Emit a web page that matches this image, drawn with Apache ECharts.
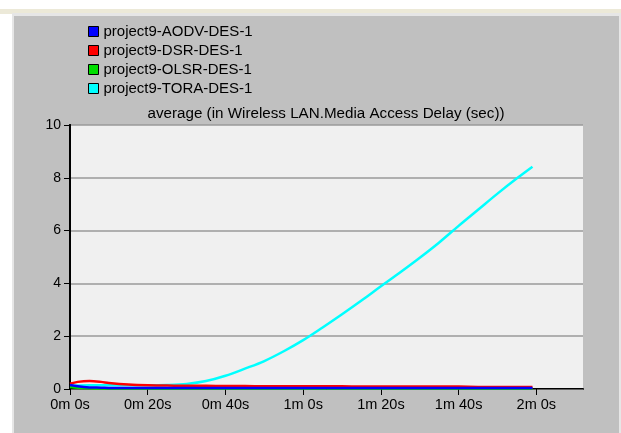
<!DOCTYPE html>
<html>
<head>
<meta charset="utf-8">
<style>
  html, body { margin: 0; padding: 0; background: #ffffff; }
  #chart { width: 621px; height: 433px; }
</style>
<script src="https://cdn.jsdelivr.net/npm/echarts@6/dist/echarts.min.js"></script>
</head>
<body>
<div id="chart"></div>
<script>
// Sample times (seconds of simulation)
const timeSec = [0, 2, 5, 8, 10, 15, 20, 25, 30, 35, 40, 45, 50, 55, 60, 65, 70, 75, 80, 85, 90, 95, 100, 105, 110, 115, 119];

// Average media access delay (sec) per routing protocol
const aodvDelay = [0.15, 0.10, 0.06, 0.05, 0.04, 0.04, 0.04, 0.04, 0.04, 0.04, 0.04, 0.04, 0.04, 0.04, 0.04, 0.04, 0.04, 0.04, 0.04, 0.04, 0.04, 0.04, 0.04, 0.04, 0.04, 0.04, 0.04];
const dsrDelay  = [0.20, 0.27, 0.30, 0.27, 0.23, 0.17, 0.14, 0.13, 0.12, 0.12, 0.11, 0.11, 0.10, 0.10, 0.10, 0.10, 0.10, 0.09, 0.09, 0.09, 0.09, 0.09, 0.09, 0.08, 0.08, 0.08, 0.08];
const olsrDelay = [0.08, 0.05, 0.03, 0.02, 0.02, 0.02, 0.02, 0.02, 0.02, 0.02, 0.02, 0.02, 0.02, 0.02, 0.02, 0.02, 0.02, 0.02, 0.02, 0.02, 0.02, 0.02, 0.02, 0.02, 0.02, 0.02, 0.02];
const toraDelay = [0.12, 0.13, 0.14, 0.14, 0.14, 0.14, 0.14, 0.15, 0.19, 0.30, 0.50, 0.77, 1.06, 1.43, 1.85, 2.33, 2.83, 3.35, 3.89, 4.42, 4.97, 5.55, 6.18, 6.79, 7.40, 7.98, 8.42];

const seriesNames = ['project9-AODV-DES-1', 'project9-DSR-DES-1', 'project9-OLSR-DES-1', 'project9-TORA-DES-1'];
const seriesColors = ['#0000ff', '#ff0000', '#00dd00', '#00ffff'];

// X tick positions (seconds) and their labels
const xTickValues = [0, 20, 40, 60, 80, 100, 120];
const xTickLabels = ['0m 0s', '0m 20s', '0m 40s', '1m 0s', '1m 20s', '1m 40s', '2m 0s'];
const yTickValues = [0, 2, 4, 6, 8, 10];

const chartTitle = 'average (in Wireless LAN.Media Access Delay (sec))';

function pairs(values) {
  return timeSec.map((t, i) => [t, values[i]]);
}

const valuesByName = {
  'project9-AODV-DES-1': aodvDelay,
  'project9-DSR-DES-1': dsrDelay,
  'project9-OLSR-DES-1': olsrDelay,
  'project9-TORA-DES-1': toraDelay
};

// draw TORA first so the low curves stay on top near the baseline
const drawOrder = [3, 2, 1, 0];

const font = 'Liberation Sans, Arial, sans-serif';
const chart = echarts.init(document.getElementById('chart'), null, { renderer: 'canvas' });

chart.setOption({
  animation: false,
  backgroundColor: '#ffffff',
  textStyle: { fontFamily: font },
  graphic: [
    { type: 'rect', silent: true, z: -10, shape: { x: 0, y: 9, width: 621, height: 5 }, style: { fill: '#ece9d8' } },
    { type: 'rect', silent: true, z: -10, shape: { x: 12, y: 13, width: 609, height: 420 }, style: { fill: '#e6e6e6' } },
    { type: 'rect', silent: true, z: -9, shape: { x: 14, y: 16, width: 605, height: 417 }, style: { fill: '#c0c0c0' } },
    {
      type: 'text', silent: true, x: 326, y: 114,
      style: { text: chartTitle, fill: '#000', font: '15.2px ' + font, textAlign: 'center', textVerticalAlign: 'middle' }
    }
  ],
  legend: {
    orient: 'vertical',
    left: 83,
    top: 19,
    itemWidth: 10,
    itemHeight: 10,
    itemGap: 4,
    icon: 'rect',
    data: seriesNames.map((n, i) => ({
      name: n,
      itemStyle: { color: seriesColors[i], borderColor: '#000', borderWidth: 1 }
    })),
    textStyle: { fontSize: 15, color: '#000', fontFamily: font },
    selectedMode: false
  },
  grid: {
    left: 70, top: 125, width: 513, height: 264,
    show: true, backgroundColor: '#f0f0f0', borderWidth: 0
  },
  xAxis: [
    {
      type: 'value', min: 0, max: 132,
      axisLine: { show: true, onZero: false, lineStyle: { color: '#000', width: 2 } },
      axisTick: { show: true, length: 6, customValues: xTickValues, lineStyle: { color: '#000', width: 1 } },
      axisLabel: {
        customValues: xTickValues,
        formatter: v => { const i = xTickValues.indexOf(v); return i >= 0 ? xTickLabels[i] : ''; },
        color: '#000', fontSize: 14.5, fontFamily: font, margin: 8
      },
      splitLine: { show: false }
    },
    {
      type: 'value', min: 0, max: 132, position: 'top',
      axisLine: { show: true, lineStyle: { color: '#606060', width: 1 } },
      axisTick: { show: false }, axisLabel: { show: false }, splitLine: { show: false }
    }
  ],
  yAxis: [
    {
      type: 'value', min: 0, max: 10, interval: 2,
      axisLine: { show: true, onZero: false, lineStyle: { color: '#000', width: 2 } },
      axisTick: { show: true, length: 6, lineStyle: { color: '#000', width: 1 } },
      axisLabel: {
        customValues: yTickValues,
        color: '#000', fontSize: 14, fontFamily: font, margin: 9
      },
      splitLine: { show: true, lineStyle: { color: '#9a9a9a', width: 1.5 } }
    },
    {
      type: 'value', min: 0, max: 10, position: 'right',
      axisLine: { show: true, lineStyle: { color: '#000', width: 2 } },
      axisTick: { show: false }, axisLabel: { show: false }, splitLine: { show: false }
    }
  ],
  series: drawOrder.map(i => ({
    name: seriesNames[i],
    type: 'line',
    data: pairs(valuesByName[seriesNames[i]]),
    smooth: 0.35,
    showSymbol: false,
    clip: true,
    color: seriesColors[i],
    lineStyle: { color: seriesColors[i], width: 2.5 }
  }))
});
</script>
</body>
</html>
